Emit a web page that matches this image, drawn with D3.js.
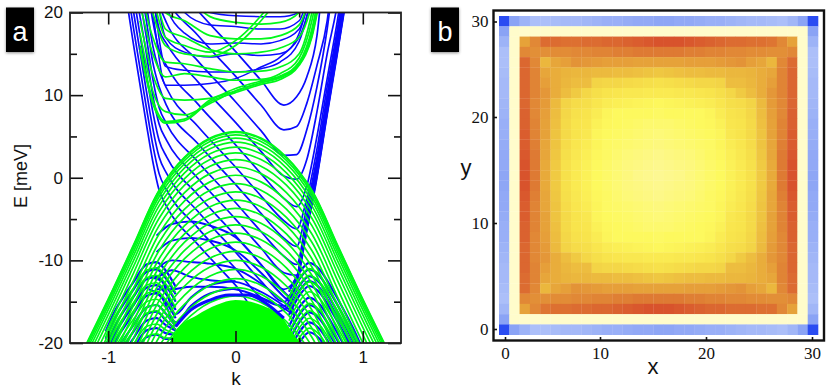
<!DOCTYPE html>
<html><head><meta charset="utf-8">
<script src="https://cdn.jsdelivr.net/npm/d3@7/dist/d3.min.js"></script>
<style>html,body{margin:0;padding:0;background:#fff}svg{display:block}</style>
</head><body>
<svg id="c" width="831" height="389"></svg>
<script>
// ---------- panel a data ----------
const kHole=[-1.2,-1,-.8,-.6,-.4,-.2,0,.2,.4,.6,.8,1,1.2];
const greenHole=[
[-21,-14.7,-8.1,-1.5,2.5,4.8,5.6,4.8,2.5,-1.5,-8.1,-14.7,-21],
[-21.1,-14.8,-8.2,-1.6,2.4,4.7,5.5,4.7,2.4,-1.6,-8.2,-14.8,-21.1],
[-21.4,-15.1,-8.5,-1.9,2.1,4.4,5.2,4.4,2.1,-1.9,-8.5,-15.1,-21.4],
[-21.8,-15.5,-8.9,-2.3,1.7,4,4.8,4,1.7,-2.3,-8.9,-15.5,-21.8],
[-22.3,-16,-9.4,-2.8,1.2,3.5,4.3,3.5,1.2,-2.8,-9.4,-16,-22.3],
[-22.9,-16.6,-10,-3.4,.6,2.9,3.7,2.9,.6,-3.4,-10,-16.6,-22.9],
[-23.6,-17.3,-10.7,-4.1,-.1,2.2,3,2.2,-.1,-4.1,-10.7,-17.3,-23.6],
[-24.4,-18.1,-11.5,-4.9,-.9,1.4,2.2,1.4,-.9,-4.9,-11.5,-18.1,-24.4],
[-25.3,-19,-12.4,-5.8,-1.8,.5,1.3,.5,-1.8,-5.8,-12.4,-19,-25.3],
[-26.3,-20,-13.4,-6.8,-2.8,-.5,.3,-.5,-2.8,-6.8,-13.4,-20,-26.3],
[-27.3,-21,-14.4,-7.8,-3.8,-1.5,-.7,-1.5,-3.8,-7.8,-14.4,-21,-27.3],
[-28.3,-22,-15.4,-8.8,-4.8,-2.5,-1.7,-2.5,-4.8,-8.8,-15.4,-22,-28.3],
[-29.3,-23,-16.4,-9.8,-5.8,-3.5,-2.7,-3.5,-5.8,-9.8,-16.4,-23,-29.3],
[-30.3,-24,-17.4,-10.8,-6.8,-4.5,-3.7,-4.5,-6.8,-10.8,-17.4,-24,-30.3],
[-31.3,-25,-18.4,-11.8,-7.8,-5.5,-4.7,-5.5,-7.8,-11.8,-18.4,-25,-31.3],
[-32.3,-26,-19.4,-12.8,-8.8,-6.5,-5.7,-6.5,-8.8,-12.8,-19.4,-26,-32.3],
[-33.3,-27,-20.4,-13.8,-9.8,-7.5,-6.7,-7.5,-9.8,-13.8,-20.4,-27,-33.3],
[-34.4,-28.1,-21.5,-14.9,-10.9,-8.6,-7.8,-8.6,-10.9,-14.9,-21.5,-28.1,-34.4],
[-35.5,-29.2,-22.6,-16,-12,-9.7,-8.9,-9.7,-12,-16,-22.6,-29.2,-35.5],
[-36.6,-30.3,-23.7,-17.1,-13.1,-10.8,-10,-10.8,-13.1,-17.1,-23.7,-30.3,-36.6],
[-37.7,-31.4,-24.8,-18.2,-14.2,-11.9,-11.1,-11.9,-14.2,-18.2,-24.8,-31.4,-37.7],
[-38.8,-32.5,-25.9,-19.3,-15.3,-13,-12.2,-13,-15.3,-19.3,-25.9,-32.5,-38.8],
[-39.9,-33.6,-27,-20.4,-16.4,-14.1,-13.3,-14.1,-16.4,-20.4,-27,-33.6,-39.9],
[-40.9,-34.6,-28,-21.4,-17.4,-15.1,-14.3,-15.1,-17.4,-21.4,-28,-34.6,-40.9]];

const kDome=[-.52,-.46,-.3,-.15,0,.2,.37,.49,.52];
const eDome=[-20,-18.4,-16.6,-15.4,-14.8,-15.4,-17,-19.6,-20];

const kVee=[-.85,-.8,-.7,-.65,-.6,-.54,-.3,0,.2,.38,.48,.56,.64,.72,.8,.88];
const blueVee=[
[49,44,35,30,27,24.8,20.3,15.3,11.8,8.8,9.8,12.2,17.2,30,40,50],
[46,41,32,27,24,21.8,17.3,12.3,8.8,5.8,6.2,9,13.6,19,30,40],
[43,38,29,24,21,18.7,14.2,9.2,5.7,2.7,2.8,5.8,11,18,28,38],
[40,35,26,22,18,16.2,11.7,6.7,3.2,.2,-.2,2.2,8,15,21,30],
[38,33,24,19,15.5,13.5,9,4,.5,-2.5,-3.5,-1,5,12,19,27],
[35,30,21,16,13,10.8,6.3,1.3,-2.2,-5.2,-6.2,-2.5,3.5,11,18,26],
[33,28,19,14,11,8.7,4.2,-.8,-4.3,-7.3,-8.3,-3.5,2.5,10,17.5,25],
[31,26,17,12,8.5,6.5,2,-3,-6.5,-9.5,-10.5,-4.5,2,9.5,17,25],
[29,24,15,10,6.5,4.5,0,-5,-8.5,-11.5,-11.8,-5,1.6,9.2,16.5,24.5],
[27,22,12.5,8,4.5,2.5,-2,-7,-10.5,-13.5,-12,-5.4,1.4,9,16.3,24.3],
[25,20,10.5,6,2.5,.5,-4,-9,-12.5,-15,-12.2,-5.6,1.2,8.8,16.1,24],
[23,18,8.5,4,.5,-1.5,-6,-11,-14.5,-15.5,-12.4,-5.8,1,8.6,16,23.8],
[21,16,6.5,2,-1.5,-3.5,-8,-13,-16.5,-16,-12.6,-6,.8,8.4,15.8,23.5]];

const kBundle=[.4,.48,.56,.64,.72,.8,.88];
const blueBundle=[
[-14.7,-12.3,-5.9,.6,8.2,15.6,23.2],
[-14.7,-12.5,-6.1,.4,8,15.4,23],
[-14.7,-12.7,-6.3,.2,7.8,15.2,22.8],
[-14.8,-12.8,-6.5,0,7.6,15,22.6]];

const kUpper=[-.75,-.65,-.55,-.4,-.2,0,.2,.35,.5,.6,.7];
const blueUpper=[
[30,20,11.2,11.2,11.4,12,13.4,14.6,17.5,23,30],
[30,22,13.5,13,12.8,12.8,13.2,14,16.5,22,30],
[33,25,17,15.2,14.6,15,14.8,15,17,22,30],
[36,28,21,17.5,16.2,16.3,16.2,16.6,18,23,30],
[40,32,25,20,18.5,18.3,18,18,19,24,30],
[44,36,28,23,20,19.6,19.5,19.5,20,26,32]];
const greenUpper=[
[15.5,9,6.6,6.9,9.2,10.3,11.3,11.9,13.6,17,25],
[16,9.4,6.8,7.1,9.4,10.5,11.5,12.1,13.7,17.2,25.5],
[17.5,10.5,8,7.6,9,10.5,11.5,12.2,13.8,17.6,26],
[19,12.5,9.6,9.4,9.6,10.8,11.7,12.3,14,18,26.5],
[21,15,12.2,12.6,12.2,11.8,11.9,12.6,14.5,19,28],
[23,17,14,13.8,13.2,12.8,12.9,13.4,15,20,29],
[27,20,16,15,14.7,16,19,22,26,30,35],
[29,22,17,16,15.2,16.6,19.6,22.6,26.6,30,35],
[31,24,18,17,15.5,15,15.2,15.7,17,21,29],
[34,26,20,19,17.2,16.8,16.8,17.2,18.5,23,31],
[38,30,23,22,19.5,18.8,18.6,18.8,20,25,33]];

const kPlateau=[-.62,-.5,-.35,-.2,0,.2,.38,.46];
const bluePlateau=[
[-7,-5.6,-5.3,-5.8,-7.2,-10.5,-13.8,-15],
[-9,-7.6,-7.3,-7.6,-8.8,-11.5,-14.4,-15.5],
[-11,-10,-10.2,-10.4,-11,-12.8,-15,-16],
[-12.2,-11.2,-12,-12.4,-12.6,-13.8,-15.5,-16.4],
[-13.5,-13.5,-13.2,-13.2,-13.5,-14.5,-15.8,-16.6]];

const kVNotch=[-.68,-.58,-.47,-.35,-.2,0];
const blueNotch=[
[-12,-12.5,-16.5,-14.5,-13,-12.5],
[-13.5,-14.5,-17.5,-15.5,-14,-13.4]];

const kRim=[-.47,-.35,-.2,-.05,.1,.25,.38];
const blueRim=[[-18,-16,-14.8,-14.2,-14.2,-15.3,-17]];

const kLobeL=[-1.02,-.95,-.88,-.8,-.7,-.62,-.55,-.47];
const blueLobeL=[
[-18.6,-16.2,-14.4,-12.6,-10.5,-10.2,-11.2,-13.2],
[-19.5,-17.1,-15.3,-13.5,-11.4,-11.1,-12.1,-14.1],
[-20.4,-18,-16.2,-14.4,-12.3,-12,-13,-15],
[-21.4,-19,-17.2,-15.4,-13.3,-13,-14,-16],
[-22.4,-20,-18.2,-16.4,-14.3,-14,-15,-17],
[-24,-21.4,-19.6,-17.8,-15.7,-15.4,-16.4,-18],
[-24.6,-22.2,-20.4,-18.6,-16.5,-16.2,-17.2,-18.4],
[-25,-23,-21.2,-19.4,-17.3,-17,-17.8,-18.5],
[-26,-24,-22.4,-20.6,-18.5,-18.2,-18.8,-19],
[-27,-25,-23.2,-21.4,-19.3,-19,-19.5,-19.5]];
const greenLobeL=[
[-19.3,-16.9,-15.1,-13.3,-11.2,-10.9,-11.9,-13.9],
[-20.2,-17.8,-16,-14.2,-12.1,-11.8,-12.8,-14.8],
[-21.1,-18.7,-16.9,-15.1,-13,-12.7,-13.7,-15.7],
[-22.1,-19.7,-17.9,-16.1,-14,-13.7,-14.7,-16.7],
[-23.1,-20.7,-18.9,-17.1,-15,-14.7,-15.7,-17.7],
[-23.8,-21.4,-19.6,-17.8,-15.7,-15.4,-16.4,-18],
[-24.5,-22.1,-20.3,-18.5,-16.4,-16.1,-17.1,-18.4],
[-26,-23.7,-21.9,-20.1,-18,-17.7,-18.4,-18.9],
[-27,-25,-23,-21.3,-19.2,-18.9,-19.4,-19.4]];

const kLobeR=[.42,.5,.58,.66,.76,.84,.92,1.0];
const blueLobeR=[
[-13.8,-11.5,-10.3,-11.1,-13.5,-15.7,-18.1,-20.8],
[-14.6,-12.3,-11.1,-11.9,-14.3,-16.5,-18.9,-21.6],
[-15.4,-13.1,-11.9,-12.7,-15.1,-17.3,-19.7,-22.4],
[-16,-13.7,-12.5,-13.3,-15.7,-17.9,-20.3,-23],
[-16.6,-14.3,-13.1,-13.9,-16.3,-18.5,-20.9,-23.6],
[-18,-15.7,-14.5,-15.3,-17.7,-19.9,-22.3,-25],
[-18.9,-16.6,-15.4,-16.2,-18.6,-20.8,-23.2,-25.9],
[-19.8,-17.5,-16.3,-17.1,-19.5,-21.7,-24,-27],
[-21,-18.7,-17.5,-18.3,-20.7,-23,-25,-28],
[-22,-20,-18.7,-19.5,-22,-24,-26,-29]];
const greenLobeR=[
[-14.5,-12.2,-11,-11.8,-14.2,-16.4,-18.8,-21.5],
[-15.3,-13,-11.8,-12.6,-15,-17.2,-19.6,-22.3],
[-16.1,-13.8,-12.6,-13.4,-15.8,-18,-20.4,-23.1],
[-17.3,-15,-13.8,-14.6,-17,-19.2,-21.6,-24.3],
[-18.7,-16.4,-15.2,-16,-18.4,-20.6,-23,-25.7],
[-19.6,-17.3,-16.1,-16.9,-19.3,-21.5,-23.9,-26.6],
[-20.5,-18.2,-17,-17.8,-20.2,-22.4,-25,-27.5],
[-21.7,-19.4,-18.2,-19,-21.4,-23.6,-26,-28.7]];

const kMajor=[-1,0,1], kMinor=[-.5,.5];
const eMajor=[-20,-10,0,10,20], eMinor=[-15,-5,5,15];

// ---------- panel b data ----------
const gridTicks=[0,10,20,30];
const heat=[
[0,10,15,19,19,18,17,17,16,15,14,14,13,12,12,11,11,12,12,13,14,14,15,16,17,17,18,19,16,10,0],
[10,30,30,30,30,30,30,30,30,30,30,30,30,30,30,30,30,30,30,30,30,30,30,30,30,30,30,30,30,30,10],
[15,30,82,89,95,95,94,94,95,95,96,96,97,98,99,100,100,100,99,98,97,96,95,95,94,94,93,89,82,30,15],
[19,30,89,87,87,88,88,89,89,90,90,91,91,92,92,92,92,92,91,91,90,90,89,89,88,88,87,87,89,30,19],
[19,30,96,89,76,81,83,86,85,84,83,83,83,82,82,82,82,82,83,83,83,84,85,86,83,81,76,89,95,30,19],
[18,30,96,90,81,79,77,76,76,75,75,74,74,73,72,71,72,73,74,74,75,75,76,76,77,79,81,90,96,30,18],
[17,30,96,90,83,79,76,74,74,66,65,65,64,63,62,61,62,63,64,65,65,66,74,74,76,79,83,90,96,30,17],
[17,30,96,90,85,79,74,70,65,62,60,59,58,58,57,57,57,58,58,59,60,62,65,70,74,79,85,90,96,30,17],
[16,30,96,89,84,75,66,63,62,59,56,55,54,53,52,51,52,53,54,55,56,59,62,63,66,75,84,89,96,30,16],
[15,30,97,89,83,74,65,61,60,56,52,50,50,50,50,49,50,50,50,50,52,56,60,61,65,74,83,89,97,30,15],
[14,30,97,90,82,73,64,60,59,54,51,50,49,48,47,47,47,48,49,50,51,54,59,60,64,73,82,90,97,30,14],
[14,30,98,90,82,72,64,60,58,52,50,49,48,47,46,45,46,47,48,49,50,52,58,60,64,72,82,90,98,30,14],
[13,30,98,91,81,72,63,59,56,52,49,48,47,46,45,44,45,46,47,48,49,52,56,59,63,72,81,91,98,30,13],
[12,30,99,92,81,71,62,58,55,51,49,47,45,44,43,42,43,44,45,47,49,51,55,58,62,71,81,92,99,30,12],
[12,30,100,92,80,70,61,57,54,50,48,46,44,43,42,41,42,43,44,46,48,50,54,57,61,70,80,92,100,30,12],
[11,30,100,92,80,70,61,57,54,50,48,46,44,42,41,40,41,42,44,46,48,50,54,57,61,70,80,92,100,30,11],
[11,30,100,92,80,70,61,57,54,50,48,46,44,43,42,41,42,43,44,46,48,50,54,57,61,70,80,92,100,30,11],
[12,30,99,91,81,71,62,58,55,51,49,47,45,44,43,42,43,44,45,47,49,51,55,58,62,71,81,91,99,30,12],
[12,30,98,90,81,72,63,59,56,52,49,48,47,46,45,44,45,46,47,48,49,52,56,59,63,72,81,90,98,30,12],
[13,30,98,90,82,72,64,60,58,52,50,49,48,47,46,45,46,47,48,49,50,52,58,60,64,72,82,90,98,30,13],
[14,30,97,90,82,73,64,60,59,54,51,50,49,48,47,47,47,48,49,50,51,54,59,60,64,73,82,90,97,30,14],
[14,30,97,89,83,74,65,61,60,56,52,50,50,50,50,49,50,50,50,50,52,56,60,61,65,74,83,89,97,30,14],
[15,30,96,89,84,75,66,63,62,59,56,55,54,53,52,51,52,53,54,55,56,59,62,63,66,75,84,89,96,30,15],
[16,30,96,89,85,79,74,70,65,62,60,59,58,58,57,57,57,58,58,59,60,62,65,70,74,79,85,89,96,30,16],
[17,30,96,90,83,79,76,74,74,66,65,65,64,63,62,61,62,63,64,65,65,66,74,74,76,79,83,90,96,30,17],
[17,30,95,90,81,79,77,76,76,75,75,74,74,73,72,71,72,73,74,74,75,75,76,76,77,79,81,90,95,30,17],
[18,30,95,89,76,81,83,86,85,84,83,83,83,82,82,82,82,82,83,83,83,84,85,86,83,81,76,89,95,30,18],
[19,30,89,87,87,88,88,89,89,90,90,91,91,92,92,92,92,92,91,91,90,90,89,89,88,88,87,87,89,30,19],
[16,30,82,89,93,94,94,95,95,96,96,97,98,99,100,100,100,99,98,97,96,96,95,95,95,94,94,89,82,30,16],
[10,30,30,30,30,30,30,30,30,30,30,30,30,30,30,30,30,30,30,30,30,30,30,30,30,30,30,30,30,30,10],
[0,10,15,19,19,18,17,17,16,15,14,14,13,12,12,11,11,12,12,13,14,14,15,16,17,17,18,19,16,10,0]];
const heatStops=[0,10,20,30,40,50,60,70,80,90,100];
const heatColors=["#2a4cf2","#8aa3f5","#b0c2f9","#fffccb","#fdf892","#fdf95e","#f8e44c","#f0ca42","#e8aa3a","#e08435","#d8532c"];

// ---------- drawing ----------
const BLUE="#0a0aff",GREEN="#00f81a";
const svg=d3.select("#c");
const defs=svg.append("defs");
const shadow=defs.append("filter").attr("id","sh").attr("x","-30%").attr("y","-30%").attr("width","160%").attr("height","160%");
shadow.append("feDropShadow").attr("dx",0).attr("dy",1).attr("stdDeviation",1.5).attr("flood-color","#000").attr("flood-opacity",.45);
defs.append("clipPath").attr("id","ca").append("rect").attr("x",70).attr("y",12.5).attr("width",331).attr("height",330.5);

// panel a
const x=d3.scaleLinear([-1.3,1.3],[70,401]);
const y=d3.scaleLinear([-20,20],[343,12.5]);
const gA=svg.append("g");
const plot=gA.append("g").attr("clip-path","url(#ca)");
function family(ks,rows,color,w,curve){
  const line=d3.line().x((d,i)=>x(ks[i])).y(d=>y(d)).curve(curve||d3.curveMonotoneX);
  plot.append("g").selectAll("path").data(rows).join("path")
    .attr("d",line).attr("fill","none").attr("stroke",color).attr("stroke-width",w).attr("stroke-linejoin","round");
}
family(kVee,blueVee,BLUE,1.7);
family(kUpper,blueUpper,BLUE,1.5);
family(kBundle,blueBundle,BLUE,1.7);
family(kPlateau,bluePlateau,BLUE,1.9);
family(kVNotch,blueNotch,BLUE,2);
family(kLobeL,blueLobeL,BLUE,2.2);
family(kLobeR,blueLobeR,BLUE,2.2);
family(kUpper,greenUpper,GREEN,1.7);
family(kHole,greenHole,GREEN,1.7,d3.curveCatmullRom);
family(kLobeL,greenLobeL,GREEN,1.6);
family(kLobeR,greenLobeR,GREEN,1.6);
plot.append("path").attr("fill","#00ff00")
  .attr("d",d3.area().x((d,i)=>x(kDome[i])).y0(y(-20)).y1(d=>y(d)).curve(d3.curveMonotoneX)(eDome));
family(kRim,blueRim,BLUE,3);

function axis(sel,gen,tx,ty){
  const g=sel.append("g").attr("transform",`translate(${tx},${ty})`).call(gen);
  g.select(".domain").remove();
  g.selectAll(".tick line").attr("stroke","#111").attr("stroke-width",1.6);
  return g;
}
const plain=d=>String(d);
const sansTick=g=>g.selectAll("text").attr("font-family","'Liberation Sans',Arial,sans-serif").attr("font-size",17).attr("fill","#111");
sansTick(axis(gA,d3.axisBottom(x).tickValues(kMajor).tickSize(-12).tickSizeOuter(0).tickPadding(8).tickFormat(plain),0,343));
axis(gA,d3.axisBottom(x).tickValues(kMinor).tickSize(-5).tickSizeOuter(0).tickFormat(""),0,343);
axis(gA,d3.axisTop(x).tickValues(kMajor).tickSize(-12).tickSizeOuter(0).tickFormat(""),0,12.5);
axis(gA,d3.axisTop(x).tickValues(kMinor).tickSize(-5).tickSizeOuter(0).tickFormat(""),0,12.5);
sansTick(axis(gA,d3.axisLeft(y).tickValues(eMajor).tickSize(-13).tickSizeOuter(0).tickPadding(7).tickFormat(plain),70,0));
axis(gA,d3.axisLeft(y).tickValues(eMinor).tickSize(-7).tickSizeOuter(0).tickFormat(""),70,0);
axis(gA,d3.axisRight(y).tickValues(eMajor).tickSize(-13).tickSizeOuter(0).tickFormat(""),401,0);
axis(gA,d3.axisRight(y).tickValues(eMinor).tickSize(-7).tickSizeOuter(0).tickFormat(""),401,0);
gA.append("rect").attr("x",70).attr("y",12.5).attr("width",331).attr("height",330.5).attr("fill","none").attr("stroke","#222").attr("stroke-width",1.8);
gA.append("text").attr("x",236).attr("y",385).attr("text-anchor","middle").attr("font-family","'Liberation Sans',Arial,sans-serif").attr("font-size",19).attr("fill","#111").text("k");
gA.append("text").attr("transform","translate(27,176) rotate(-90)").attr("text-anchor","middle").attr("font-family","'Liberation Sans',Arial,sans-serif").attr("font-size",18).attr("fill","#111").text("E [meV]");

// panel b
const gB=svg.append("g");
const cellIdx=d3.range(heat.length);
const xCell=d3.scaleBand(cellIdx,[499,818]);
const yCell=d3.scaleBand(cellIdx,[16,334.7]);
const color=d3.scaleLinear(heatStops,heatColors);
gB.append("g").selectAll("g").data(heat).join("g").attr("transform",(r,i)=>`translate(0,${yCell(i)})`)
  .selectAll("rect").data(r=>r).join("rect")
  .attr("x",(d,i)=>xCell(i)).attr("width",xCell.bandwidth()+.3).attr("height",yCell.bandwidth()+.3).attr("fill",d=>color(d));
const xT=d3.scaleLinear(gridTicks,[505,600,706,812]);
const yT=d3.scaleLinear(gridTicks,[329,223,117,21.5]);
const serifTick=g=>g.selectAll("text").attr("font-family","'Liberation Serif','Times New Roman',serif").attr("font-size",17).attr("fill","#111");
serifTick(axis(gB,d3.axisBottom(xT).tickValues(gridTicks).tickSize(-3.5).tickSizeOuter(0).tickPadding(6.5).tickFormat(plain),0,340.5));
serifTick(axis(gB,d3.axisLeft(yT).tickValues(gridTicks).tickSize(-3.5).tickSizeOuter(0).tickPadding(5).tickFormat(plain),493.5,0));
gB.append("rect").attr("x",493.5).attr("y",10.5).attr("width",330.5).attr("height",330).attr("fill","none").attr("stroke","#111").attr("stroke-width",2.4);
gB.append("text").attr("x",653).attr("y",374).attr("text-anchor","middle").attr("font-family","'Liberation Sans',Arial,sans-serif").attr("font-size",22).attr("fill","#111").text("x");
gB.append("text").attr("x",466).attr("y",175).attr("text-anchor","middle").attr("font-family","'Liberation Sans',Arial,sans-serif").attr("font-size",22).attr("fill","#111").text("y");

// panel badges
const badges=[["a",6,20],["b",431,445]];
badges.forEach(([t,bx,cx])=>{
  svg.append("rect").attr("x",bx).attr("y",7.5).attr("width",28).attr("height",44.5).attr("fill","#000").attr("filter","url(#sh)");
  svg.append("text").attr("x",cx).attr("y",41).attr("text-anchor","middle").attr("font-family","'Liberation Sans',Arial,sans-serif").attr("font-size",27).attr("fill","#fff").text(t);
});
</script>
</body></html>
